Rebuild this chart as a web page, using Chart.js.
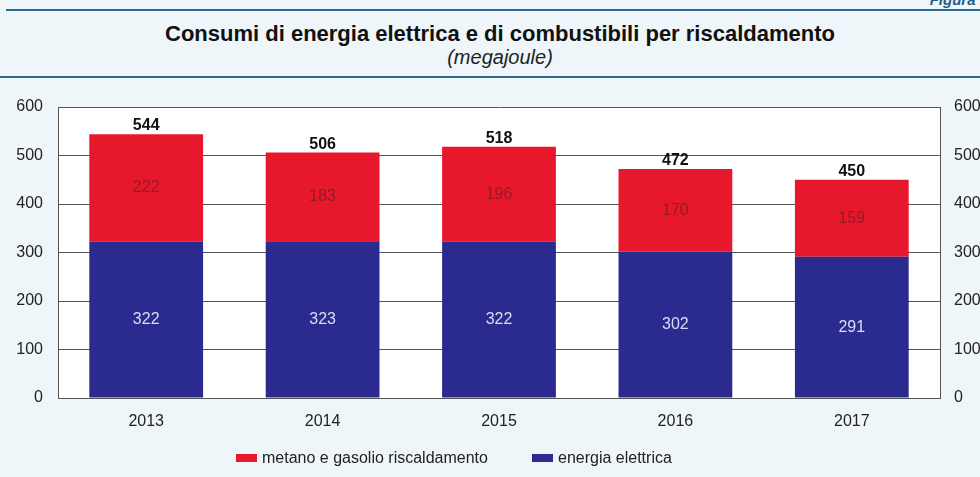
<!DOCTYPE html>
<html>
<head>
<meta charset="utf-8">
<script src="https://cdn.jsdelivr.net/npm/chart.js@4/dist/chart.umd.min.js"></script>
<style>
  html, body { margin: 0; padding: 0; }
  body {
    width: 980px; height: 477px; overflow: hidden; position: relative;
    background: #eef6fa; font-family: "Liberation Sans", Arial, sans-serif;
  }
  #figura { position: absolute; right: -8px; top: -9px; color: #1f5f8b; font-weight: bold; font-size: 15px; font-style: italic; }
  #rule1 { position: absolute; left: 6px; right: 0; top: 9px; height: 2px; background: #2c6a8c; }
  #rule2 { position: absolute; left: 0; right: 0; top: 76px; height: 2px; background: #2c6a8c; }
  #title { position: absolute; left: 0; width: 1000px; top: 21px; line-height: 26px; text-align: center; font-weight: bold; font-size: 22px; color: #111; }
  #subtitle { position: absolute; left: 0; width: 1000px; top: 45px; line-height: 24px; text-align: center; font-style: italic; font-size: 20px; color: #222; }
  #wrap { position: absolute; left: 0; top: 0; width: 980px; height: 477px; }
  .leg { position: absolute; top: 448px; font-size: 16px; line-height: 20px; color: #222; white-space: nowrap; }
  .leg i { position: absolute; left: -26px; top: 6px; width: 21px; height: 8px; }
</style>
</head>
<body>
<div id="figura">Figura 1</div>
<div id="rule1"></div>
<div id="title">Consumi di energia elettrica e di combustibili per riscaldamento</div>
<div id="subtitle">(megajoule)</div>
<div id="rule2"></div>
<div id="wrap"><canvas id="chart"></canvas></div>
<div class="leg" id="leg0" style="left:262px"><i></i><span></span></div>
<div class="leg" id="leg1" style="left:558px"><i></i><span></span></div>
<script>
// dati (megajoule)
const years = ['2013', '2014', '2015', '2016', '2017'];
const elettrica = [322, 323, 322, 302, 291];
const riscaldamento = [222, 183, 196, 170, 159];
const totali = [544, 506, 518, 472, 450];
const yTicks = [0, 100, 200, 300, 400, 500, 600];
const seriesNames = ['energia elettrica', 'metano e gasolio riscaldamento'];
const seriesColors = ['#2b2a8e', '#e8182c'];

const FONT = '"Liberation Sans", Arial, sans-serif';

// legend (html): red first, then blue
[1, 0].forEach((s, k) => {
    const el = document.getElementById('leg' + k);
    el.querySelector('i').style.background = seriesColors[s];
    el.querySelector('span').textContent = seriesNames[s];
});

// white plot background
const plotBg = {
    id: 'plotBg',
    beforeDraw(chart) {
        const { ctx, chartArea: a } = chart;
        ctx.save();
        ctx.fillStyle = '#ffffff';
        ctx.fillRect(a.left, a.top, a.right - a.left, a.bottom - a.top);
        ctx.restore();
    }
};

// values inside the segments + totals above
const barLabels = {
    id: 'barLabels',
    afterDatasetsDraw(chart) {
        const ctx = chart.ctx;
        ctx.save();
        ctx.textAlign = 'center';
        ctx.textBaseline = 'middle';
        const inColors = ['#dcdcf2', '#961a26'];
        chart.data.datasets.forEach((ds, i) => {
            const meta = chart.getDatasetMeta(i);
            ctx.font = '16px ' + FONT;
            ctx.fillStyle = inColors[i];
            meta.data.forEach((bar, j) => {
                ctx.fillText(String(ds.data[j]), bar.x, (bar.y + bar.base) / 2);
            });
        });
        const top = chart.getDatasetMeta(1);
        ctx.font = 'bold 16px ' + FONT;
        ctx.fillStyle = '#111';
        ctx.textBaseline = 'alphabetic';
        top.data.forEach((bar, j) => {
            ctx.fillText(String(totali[j]), bar.x, bar.y - 4);
        });
        ctx.restore();
    }
};

new Chart(document.getElementById('chart'), {
    type: 'bar',
    data: {
        labels: years,
        datasets: [
            {
                label: seriesNames[0],
                data: elettrica,
                backgroundColor: seriesColors[0],
                stack: 's',
                categoryPercentage: 0.645,
                barPercentage: 1
            },
            {
                label: seriesNames[1],
                data: riscaldamento,
                backgroundColor: seriesColors[1],
                stack: 's',
                categoryPercentage: 0.645,
                barPercentage: 1
            }
        ]
    },
    options: {
        responsive: true,
        maintainAspectRatio: false,
        animation: false,
        layout: { padding: { top: 107, left: 0, right: 0, bottom: 45 } },
        plugins: {
            legend: { display: false },
            tooltip: { enabled: false }
        },
        scales: {
            x: {
                stacked: true,
                grid: { display: false },
                border: { color: '#555', width: 1 },
                ticks: { color: '#222', font: { size: 16, family: FONT }, padding: 6 },
                afterFit: s => { s.height = 34; }
            },
            y: {
                stacked: true,
                min: 0, max: 600,
                afterBuildTicks: s => { s.ticks = yTicks.map(v => ({ value: v })); },
                grid: { color: '#555', lineWidth: 1, drawTicks: false },
                border: { color: '#555', width: 1 },
                ticks: { color: '#222', font: { size: 16, family: FONT }, padding: 15 },
                afterFit: s => { s.width = 58; }
            },
            y2: {
                position: 'right',
                min: 0, max: 600,
                afterBuildTicks: s => { s.ticks = yTicks.map(v => ({ value: v })); },
                grid: { display: false, drawTicks: false },
                border: { color: '#555', width: 1 },
                ticks: { color: '#222', font: { size: 16, family: FONT }, padding: 14 },
                afterFit: s => { s.width = 40; }
            }
        }
    },
    plugins: [plotBg, barLabels]
});
</script>
</body>
</html>
